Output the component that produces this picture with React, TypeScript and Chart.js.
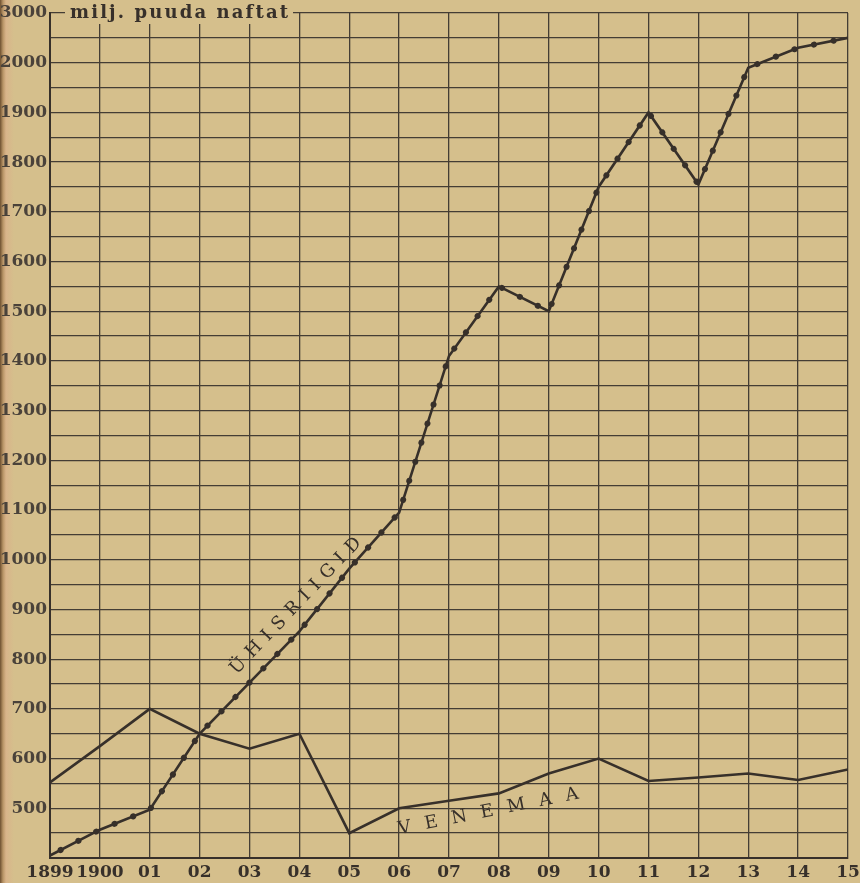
import React, { useEffect, useRef } from "react";
import { Chart, registerables } from "chart.js";

Chart.register(...registerables);

const years = [1899, 1900, 1901, 1902, 1903, 1904, 1905, 1906, 1907, 1908, 1909, 1910, 1911, 1912, 1913, 1914, 1915];
const xTickLabels = ["1899", "1900", "01", "02", "03", "04", "05", "06", "07", "08", "09", "10", "11", "12", "13", "14", "15"];
const yTickValues = [500, 600, 700, 800, 900, 1000, 1100, 1200, 1300, 1400, 1500, 1600, 1700, 1800, 1900, 2000, 2100];
const yTickLabels = ["500", "600", "700", "800", "900", "1000", "1100", "1200", "1300", "1400", "1500", "1600", "1700", "1800", "1900", "2000", "3000"];
const usaValues = [405, 457, 497, 650, 753, 856, 982, 1095, 1410, 1550, 1500, 1750, 1900, 1755, 1990, 2030, 2050];
const russiaValues = [552, 625, 700, 650, 620, 650, 450, 500, 515, 530, 570, 600, 555, 562, 570, 557, 578];
const seriesNames = ["ÜHISRIIGID", "VENEMAA"];
const unitTitle = "milj. puuda naftat";

const PAPER = "#d5bf8c";
const INK = "#37302a";
const GRID = "#443d34";

function drawSpaced(ctx: CanvasRenderingContext2D, text: string, spacing: number) {
  const chars = Array.from(text);
  const widths = chars.map((c) => ctx.measureText(c).width);
  const total = widths.reduce((a, b) => a + b, 0) + spacing * (chars.length - 1);
  let x = -total / 2;
  chars.forEach((c, i) => {
    ctx.fillText(c, x, 0);
    x += widths[i] + spacing;
  });
}

const annotationPlugin = {
  id: "annot",
  afterDatasetsDraw(chart: any) {
    const { ctx, scales } = chart;
    const xs = scales.x;
    const ys = scales.y;
    ctx.save();
    ctx.font = "bold 18px 'DejaVu Serif'";
    ctx.textBaseline = "middle";
    ctx.textAlign = "left";
    const topY = ys.getPixelForValue(2100);
    const tx = xs.getPixelForValue(1899) + 20;
    const chars = Array.from(unitTitle);
    const targetW = 218;
    const raw = chars.reduce((a, c) => a + ctx.measureText(c).width, 0);
    const sp = (targetW - raw) / (chars.length - 1);
    ctx.fillStyle = PAPER;
    ctx.fillRect(tx - 5, topY - 11, targetW + 10, 22);
    ctx.fillStyle = INK;
    let cx = tx;
    chars.forEach((c) => {
      ctx.fillText(c, cx, topY);
      cx += ctx.measureText(c).width + sp;
    });

    ctx.font = "18px 'DejaVu Serif'";
    ctx.save();
    ctx.translate(xs.getPixelForValue(1903.93), ys.getPixelForValue(907));
    ctx.rotate((-46.4 * Math.PI) / 180);
    drawSpaced(ctx, seriesNames[0], 7.5);
    ctx.restore();

    ctx.save();
    ctx.translate(xs.getPixelForValue(1907.79), ys.getPixelForValue(493));
    ctx.rotate((-11.2 * Math.PI) / 180);
    drawSpaced(ctx, seriesNames[1], 14);
    ctx.restore();
    ctx.restore();
  },
};

export default function App() {
  const ref = useRef<HTMLCanvasElement | null>(null);
  useEffect(() => {
    if (!ref.current) return;
    const chart = new Chart(ref.current, {
      type: "line",
      data: {
        datasets: [
          {
            label: seriesNames[1],
            data: years.map((y, i) => ({ x: y, y: russiaValues[i] })),
            borderColor: INK,
            borderWidth: 2.6,
            pointRadius: 0,
            tension: 0,
          },
          {
            label: seriesNames[0],
            data: years.map((y, i) => ({ x: y, y: usaValues[i] })),
            borderColor: INK,
            borderWidth: 2.6,
            pointRadius: 0,
            tension: 0,
          },
          {
            label: seriesNames[0] + " dots",
            data: years.map((y, i) => ({ x: y, y: usaValues[i] })),
            borderColor: INK,
            borderWidth: 6,
            borderDash: [0.01, 20],
            borderDashOffset: -12,
            borderCapStyle: "round",
            pointRadius: 0,
            tension: 0,
          },
        ],
      },
      options: {
        animation: false,
        responsive: false,
        devicePixelRatio: 1,
        layout: { autoPadding: false, padding: { top: 13, right: 12, left: 0, bottom: 0 } },
        plugins: { legend: { display: false }, tooltip: { enabled: false } },
        scales: {
          x: {
            type: "linear",
            min: 1899,
            max: 1915,
            ticks: {
              stepSize: 1,
              autoSkip: false,
              maxRotation: 0,
              padding: 4,
              color: INK,
              font: { family: "'DejaVu Serif'", size: 17, weight: "bold" },
              callback: (v: any) => {
                const i = years.indexOf(Number(v));
                return i >= 0 ? xTickLabels[i] : "";
              },
            },
            grid: { color: GRID, lineWidth: 1.3, drawTicks: false },
            border: { display: true, color: INK, width: 2 },
            afterFit: (s: any) => {
              s.height = 25;
              s.paddingLeft = 0;
              s.paddingRight = 0;
            },
          },
          y: {
            type: "linear",
            min: 400,
            max: 2100,
            ticks: {
              stepSize: 50,
              autoSkip: false,
              padding: 3,
              color: "#4a423a",
              font: { family: "'DejaVu Serif'", size: 17, weight: "bold" },
              callback: (v: any) => {
                const i = yTickValues.indexOf(Number(v));
                return i >= 0 ? yTickLabels[i] : "";
              },
            },
            grid: { color: GRID, lineWidth: 1.3, drawTicks: false },
            border: { display: true, color: INK, width: 2 },
            afterFit: (s: any) => {
              s.width = 50;
              s.paddingTop = 0;
              s.paddingBottom = 0;
            },
          },
        },
      },
      plugins: [annotationPlugin],
    });
    return () => chart.destroy();
  }, []);
  return (
    <div
      style={{
        position: "absolute",
        left: 0,
        top: 0,
        width: 860,
        height: 883,
        background: `linear-gradient(to right, #6e5030 0px, #b89466 3px, #d9b48a 6px, ${PAPER} 14px, ${PAPER} 100%)`,
      }}
    >
      <canvas ref={ref} width={860} height={883} style={{ display: "block" }} />
    </div>
  );
}
